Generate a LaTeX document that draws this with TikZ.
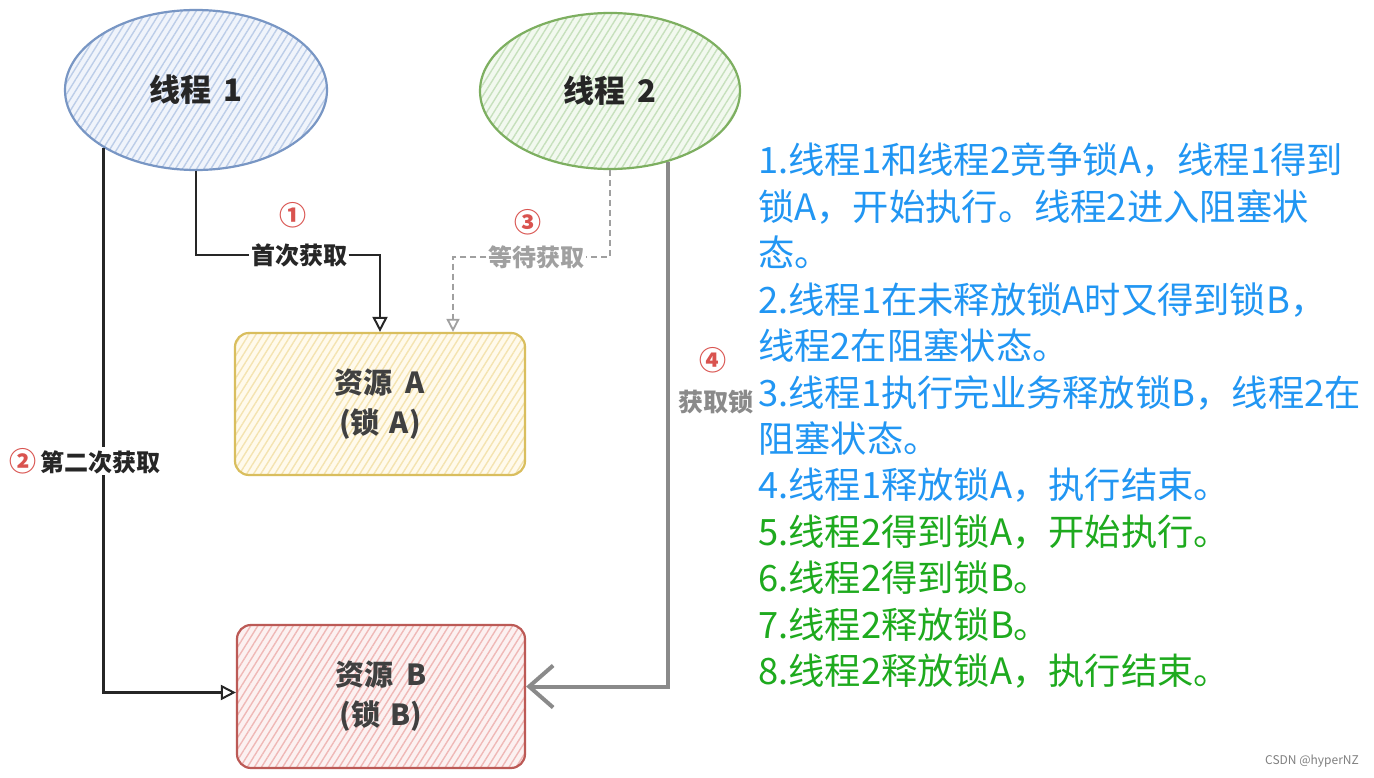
\documentclass[tikz,border=0pt]{standalone}
\usepackage{fontspec}
\setmainfont{Noto Sans CJK SC}
\usetikzlibrary{shapes.geometric,arrows.meta,patterns.meta}
\definecolor{tonec}{HTML}{7896C4}
\definecolor{tonef}{HTML}{F0F4FB}
\definecolor{toneh}{HTML}{BCCDE8}
\definecolor{ttwoc}{HTML}{7DAF60}
\definecolor{ttwof}{HTML}{F2F9EF}
\definecolor{ttwoh}{HTML}{C6E0BC}
\definecolor{rac}{HTML}{D9BE5E}
\definecolor{raf}{HTML}{FFFAEC}
\definecolor{rah}{HTML}{F4E3B0}
\definecolor{rbc}{HTML}{BC5A56}
\definecolor{rbf}{HTML}{FCF1F1}
\definecolor{rbh}{HTML}{EFB8B6}
\definecolor{numred}{HTML}{D9534F}
\definecolor{txtblue}{HTML}{2196F3}
\definecolor{txtgreen}{HTML}{1EAA1E}
\definecolor{waitgray}{HTML}{A0A0A0}
\definecolor{getgray}{HTML}{8A8A8A}
\begin{document}
\begin{tikzpicture}[x=1pt,y=-1pt,
  hatch/.style={pattern={Lines[angle=58,distance=6pt,line width=1.4pt]}},
  thread/.style={ellipse, minimum width=262pt, minimum height=160pt, inner sep=0pt,
    line width=2.2pt, font=\fontsize{31}{34}\selectfont\bfseries, text=black!85, hatch},
  res/.style={rectangle, rounded corners=14pt, minimum height=142pt,
    line width=2.2pt, align=center, font=\fontsize{29}{40}\selectfont\bfseries, text=black!75, hatch},
  lbl/.style={font=\fontsize{24}{26}\selectfont\bfseries, fill=white, inner sep=1.5pt},
  num/.style={font=\fontsize{27}{28}\selectfont, text=numred, inner sep=0pt},
  note/.style={anchor=base west, inner sep=0pt, font=\fontsize{36.3}{40}\selectfont},
  blk/.style={draw=black!85, line width=2.6pt, -{Triangle[open,length=15pt,width=15pt,line width=2pt]}},
  wait/.style={draw=waitgray, line width=2pt, dash pattern=on 6pt off 4pt, -{Triangle[open,length=13pt,width=13pt,line width=1.8pt]}},
  getl/.style={draw=getgray, line width=4pt, -{Straight Barb[length=24pt,width=42pt,line width=4pt]}}
]
\useasboundingbox[fill=white] (0,0) rectangle (1374,778);

% threads
\node[thread, draw=tonec, preaction={fill=tonef}, pattern color=toneh] (t1) at (196,90) {线程\hspace{0.4em}1};
\node[thread, draw=ttwoc, preaction={fill=ttwof}, pattern color=ttwoh, minimum width=260pt, minimum height=156pt] (t2) at (610,91) {线程\hspace{0.4em}2};

% resources
\node[res, draw=rac, preaction={fill=raf}, pattern color=rah, minimum width=290pt] (a) at (380,404) {资源\hspace{0.45em}A\\(锁\hspace{0.35em}A)};
\node[res, draw=rbc, preaction={fill=rbf}, pattern color=rbh, minimum width=288pt, minimum height=143pt] (b) at (381,696.5) {资源\hspace{0.45em}B\\(锁\hspace{0.35em}B)};

% labels
\node[lbl, text=black!85] (l1) at (299,255) {首次获取};
\node[num] (n1) at (293,215) {\bfseries ①};
\node[lbl, text=waitgray] (l3) at (536,257) {等待获取};
\node[num] (n3) at (528,222) {\bfseries ③};
\node[num] (n4) at (713,360) {\bfseries ④};
\node[font=\fontsize{25}{27}\selectfont\bfseries, text=getgray, inner sep=0pt] (l4) at (716,402) {获取锁};

% connectors
\draw[blk, -] (t1.south) |- (l1.west);
\draw[blk] (l1.east) -| (a.north);
\draw[wait, -] (t2.south) |- (l3.east);
\draw[wait] (l3.west) -| ([xshift=73pt]a.north);
\draw[blk] (t1.212) |- ([yshift=4pt]b.west);
\draw[getl] (t2.309) |- ([yshift=10pt]b.east);

\node[lbl, anchor=west, text=black!85] (l2) at (8,461) {{\color{numred}\fontsize{27}{28}\selectfont ②}\hspace{4pt}第二次获取};

% notes
\node[note, text=txtblue] (s1) at (758,174) {1.线程1和线程2竞争锁A，线程1得到};
\node[note, text=txtblue] (s2) at (758,220.4) {锁A，开始执行。线程2进入阻塞状};
\node[note, text=txtblue] (s3) at (758,266.8) {态。};
\node[note, text=txtblue] (s4) at (758,313.2) {2.线程1在未释放锁A时又得到锁B，};
\node[note, text=txtblue] (s5) at (758,359.6) {线程2在阻塞状态。};
\node[note, text=txtblue] (s6) at (758,406) {3.线程1执行完业务释放锁B，线程2在};
\node[note, text=txtblue] (s7) at (758,452.4) {阻塞状态。};
\node[note, text=txtblue] (s8) at (758,498.8) {4.线程1释放锁A，执行结束。};
\node[note, text=txtgreen] (s9) at (758,545.2) {5.线程2得到锁A，开始执行。};
\node[note, text=txtgreen] (s10) at (758,591.6) {6.线程2得到锁B。};
\node[note, text=txtgreen] (s11) at (758,638) {7.线程2释放锁B。};
\node[note, text=txtgreen] (s12) at (758,684.4) {8.线程2释放锁A，执行结束。};

\node[font=\fontsize{12}{14}\selectfont, text=black!50, inner sep=0pt] (wm) at (1312,761) {CSDN @hyperNZ};
\end{tikzpicture}
\end{document}
